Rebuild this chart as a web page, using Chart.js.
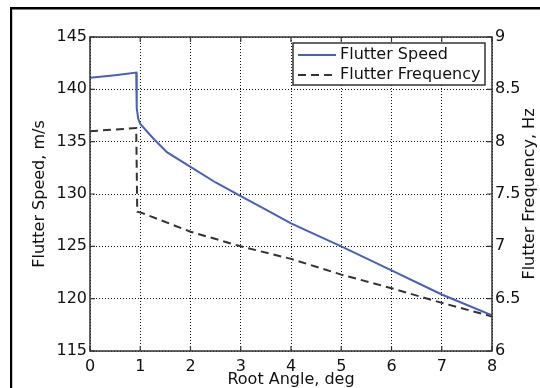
<!DOCTYPE html>
<html>
<head>
<meta charset="utf-8">
<script src="https://cdn.jsdelivr.net/npm/chart.js@4.4.1/dist/chart.umd.min.js"></script>
<style>
html,body{margin:0;padding:0;background:#fff;}
canvas{display:block;}
</style>
</head>
<body>
<canvas id="c" width="540" height="388"></canvas>
<script>
// ---- data ----
const speedAngles = [0, 0.5, 0.92, 0.93, 0.96, 1.0, 1.26, 1.53, 2.0, 2.5, 3.0, 3.5, 4.0, 5.0, 6.0, 7.0, 8.0];
const flutterSpeed = [141.1, 141.35, 141.6, 138.2, 137.2, 136.7, 135.3, 134.0, 132.6, 131.1, 129.8, 128.5, 127.2, 125.0, 122.7, 120.4, 118.4];
const freqAngles = [0, 0.92, 0.94, 1.03, 2.0, 3.0, 4.0, 5.0, 6.0, 7.0, 8.0];
const flutterFreq = [8.10, 8.13, 7.33, 7.32, 7.14, 7.00, 6.88, 6.73, 6.60, 6.46, 6.33];
const seriesLabels = ['Flutter Speed', 'Flutter Frequency'];
const xTitle = 'Root Angle, deg';
const yTitle = 'Flutter Speed, m/s';
const y1Title = 'Flutter Frequency, Hz';

const FONT = 'DejaVu Sans';
const TXT = '#111';
const toPts = (xs, ys) => xs.map((x, i) => ({x: x, y: ys[i]}));

const decor = {
  id: 'decor',
  beforeDraw(chart) {
    const ctx = chart.ctx;
    ctx.save();
    ctx.fillStyle = '#000';
    ctx.fillRect(10, 7, 530, 2.5);
    ctx.fillRect(10, 7, 2.2, 381);
    ctx.restore();
  },
  afterDatasetsDraw(chart) {
    const ctx = chart.ctx;
    const a = chart.chartArea;
    const sx = chart.scales.x, sy = chart.scales.y, sy1 = chart.scales.y1;
    ctx.save();
    ctx.strokeStyle = '#333';
    ctx.lineWidth = 1.5;
    ctx.strokeRect(a.left, a.top, a.right - a.left, a.bottom - a.top);
    ctx.lineWidth = 1.2;
    ctx.beginPath();
    sx.ticks.forEach(t => {
      const px = sx.getPixelForValue(t.value);
      ctx.moveTo(px, a.bottom); ctx.lineTo(px, a.bottom - 5);
      ctx.moveTo(px, a.top); ctx.lineTo(px, a.top + 5);
    });
    sy.ticks.forEach(t => {
      const py = sy.getPixelForValue(t.value);
      ctx.moveTo(a.left, py); ctx.lineTo(a.left + 5, py);
    });
    sy1.ticks.forEach(t => {
      const py = sy1.getPixelForValue(t.value);
      ctx.moveTo(a.right, py); ctx.lineTo(a.right - 5, py);
    });
    ctx.stroke();

    // right axis title (reads bottom-to-top)
    ctx.fillStyle = TXT;
    ctx.font = '16px "' + FONT + '"';
    ctx.textAlign = 'center';
    ctx.textBaseline = 'middle';
    ctx.translate(530, (a.top + a.bottom) / 2);
    ctx.rotate(-Math.PI / 2);
    ctx.fillText(y1Title, 0, 0);
    ctx.restore();

    // legend box
    ctx.save();
    const bx = 293, by = 43, bw = 192, bh = 42;
    ctx.fillStyle = '#fff';
    ctx.fillRect(bx, by, bw, bh);
    ctx.strokeStyle = '#333';
    ctx.lineWidth = 1.5;
    ctx.strokeRect(bx, by, bw, bh);
    chart.data.datasets.forEach((ds, i) => {
      const ly = by + 12 + i * 20;
      ctx.strokeStyle = ds.borderColor;
      ctx.lineWidth = ds.borderWidth;
      ctx.setLineDash(ds.borderDash || []);
      ctx.beginPath();
      ctx.moveTo(298, ly); ctx.lineTo(336, ly);
      ctx.stroke();
      ctx.setLineDash([]);
      ctx.fillStyle = TXT;
      ctx.font = '16px "' + FONT + '"';
      ctx.textAlign = 'left';
      ctx.textBaseline = 'middle';
      ctx.fillText(ds.label, 340, ly);
    });
    ctx.restore();
  }
};

new Chart(document.getElementById('c'), {
  type: 'line',
  data: {
    datasets: [
      {label: seriesLabels[0], data: toPts(speedAngles, flutterSpeed), yAxisID: 'y',
       borderColor: '#4a5fb6', borderWidth: 2, pointRadius: 0, tension: 0, fill: false},
      {label: seriesLabels[1], data: toPts(freqAngles, flutterFreq), yAxisID: 'y1',
       borderColor: '#333', borderWidth: 2, borderDash: [8, 5], pointRadius: 0, tension: 0, fill: false}
    ]
  },
  options: {
    responsive: false,
    animation: false,
    layout: {padding: {top: 37, left: 0, right: 0, bottom: 0}},
    plugins: {legend: {display: false}, tooltip: {enabled: false}},
    scales: {
      x: {
        type: 'linear', min: 0, max: 8,
        ticks: {stepSize: 1, color: TXT, font: {family: FONT, size: 16}, padding: 6, maxRotation: 0},
        grid: {color: '#111', lineWidth: 1, drawTicks: false},
        border: {display: false, dash: [1, 2]},
        title: {display: true, text: xTitle, color: TXT, font: {family: FONT, size: 16, lineHeight: 1}, padding: {top: 0, bottom: 0}},
        afterFit(s) { s.height = 37; }
      },
      y: {
        position: 'left', min: 115, max: 145,
        ticks: {stepSize: 5, color: TXT, font: {family: FONT, size: 16}, padding: 3},
        grid: {color: '#111', lineWidth: 1, drawTicks: false},
        border: {display: false, dash: [1, 2]},
        title: {display: true, text: yTitle, color: TXT, font: {family: FONT, size: 16}, padding: {top: 30, bottom: 0}},
        afterFit(s) { s.width = 90; }
      },
      y1: {
        position: 'right', min: 6, max: 9,
        ticks: {stepSize: 0.5, color: TXT, font: {family: FONT, size: 16}, padding: 3,
                callback: v => String(v)},
        grid: {drawOnChartArea: false, drawTicks: false},
        border: {display: false},
        afterFit(s) { s.width = 48; }
      }
    }
  },
  plugins: [decor]
});
</script>
</body>
</html>
